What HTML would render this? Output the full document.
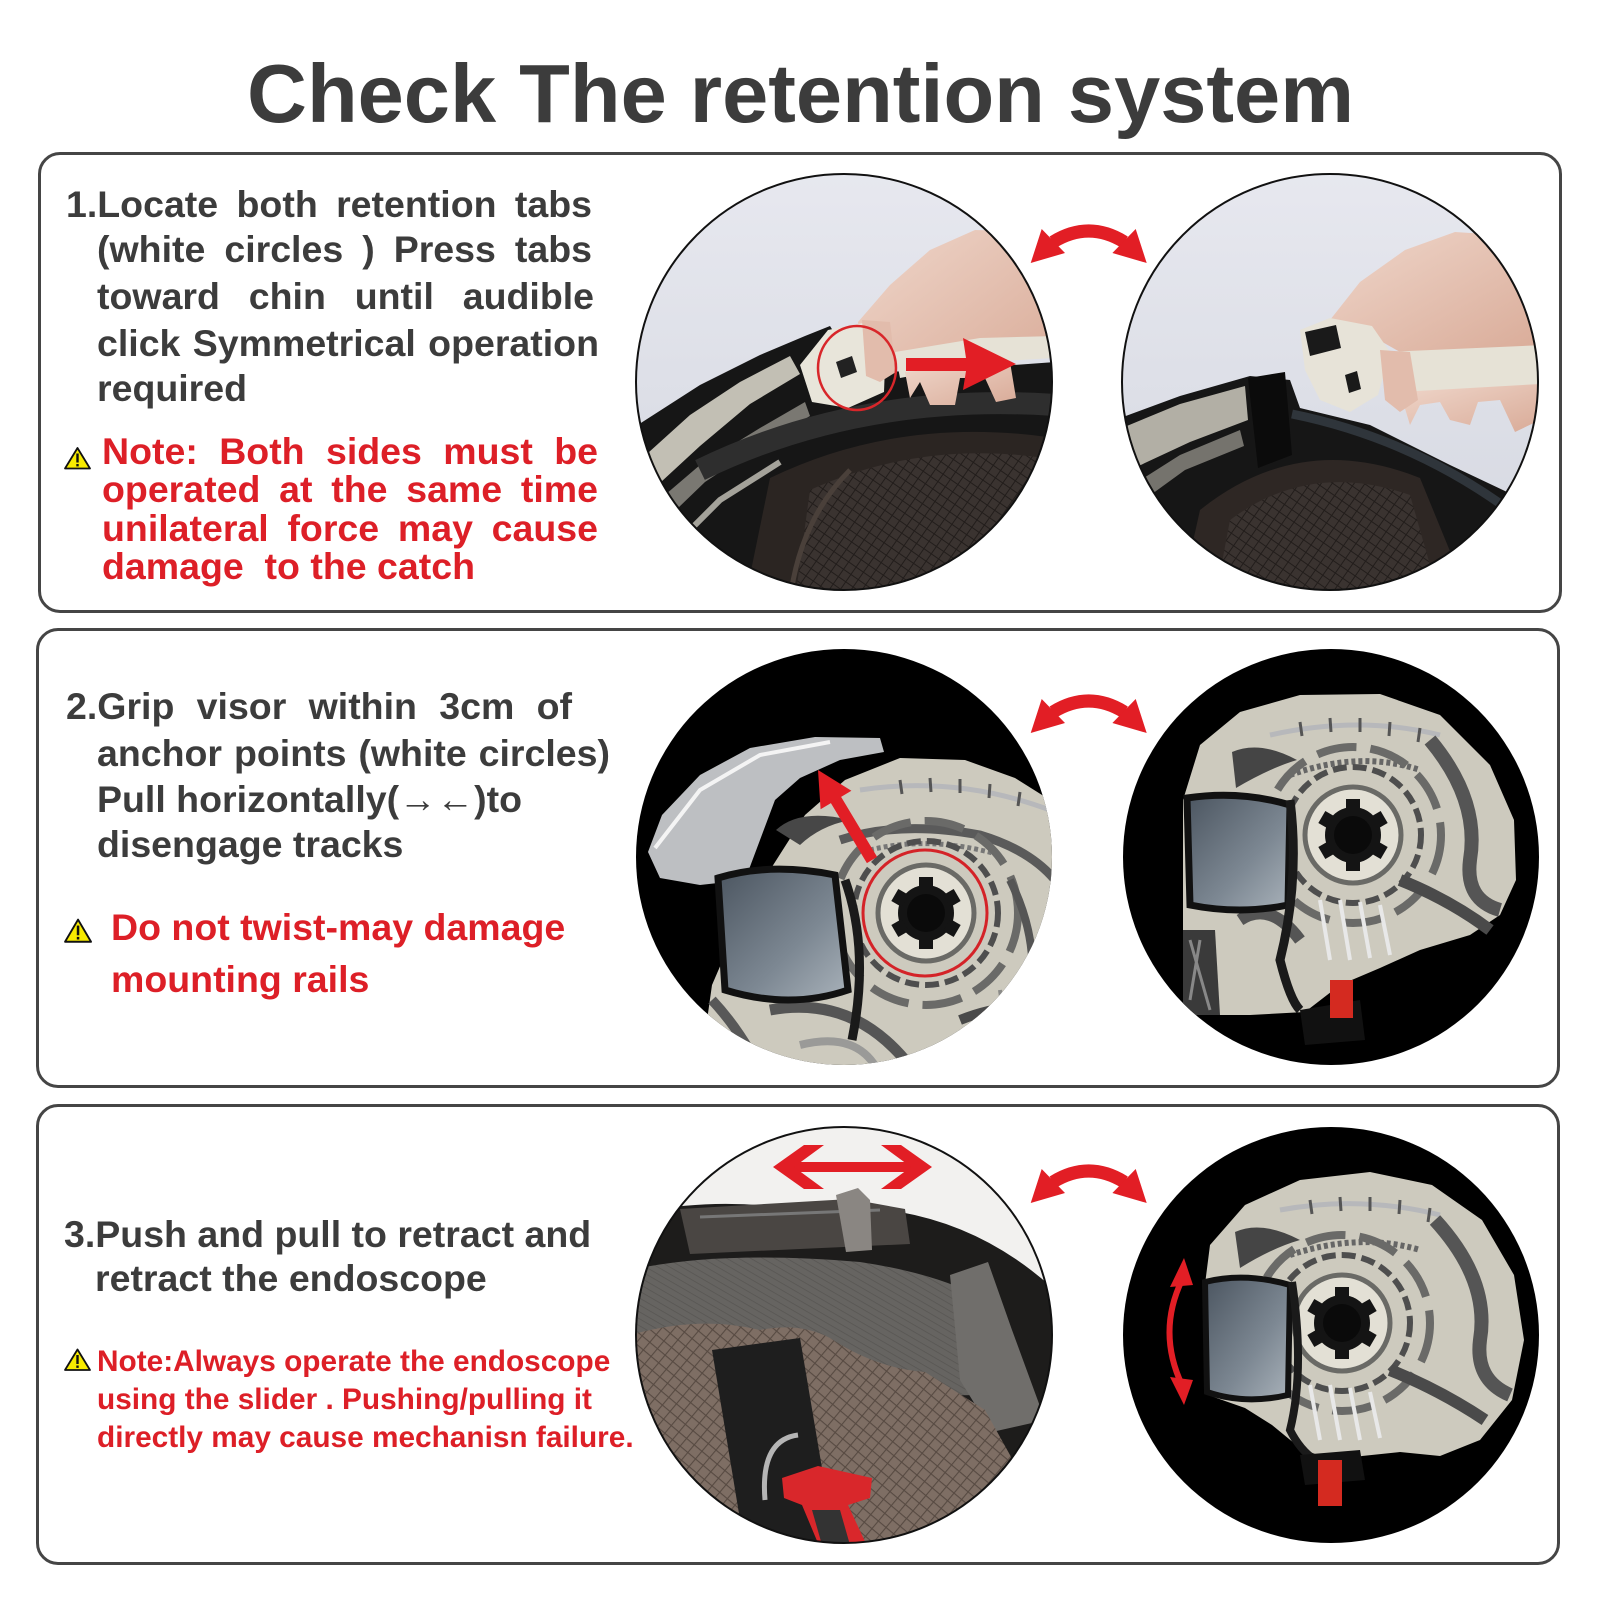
<!DOCTYPE html>
<html><head><meta charset="utf-8">
<style>
html,body{margin:0;padding:0;background:#fff;}
body{width:1600px;height:1600px;position:relative;overflow:hidden;font-family:"Liberation Sans",Arial,sans-serif;font-weight:bold;}
.t{position:absolute;white-space:nowrap;line-height:1;}
.k{color:#3c3c3c;font-size:37.5px;height:38px;}
.r{color:#dd1f27;font-size:37.5px;height:38px;}
.rs{color:#dd1f27;font-size:29.8px;height:30px;}
.j{text-align:justify;text-align-last:justify;white-space:normal;}
.box{position:absolute;border:3px solid #454545;border-radius:22px;box-sizing:border-box;}
svg{position:absolute;left:0;top:0;}
</style></head><body>

<div class="box" style="left:38px;top:152px;width:1524px;height:461px;"></div>
<div class="box" style="left:36px;top:628px;width:1524px;height:460px;"></div>
<div class="box" style="left:36px;top:1104px;width:1524px;height:461px;"></div>

<svg width="1600" height="1600" viewBox="0 0 1600 1600">
<defs>
<clipPath id="c1a"><circle cx="844" cy="382" r="208"/></clipPath>
<clipPath id="c1b"><circle cx="1330" cy="382" r="208"/></clipPath>
<clipPath id="c2a"><circle cx="844" cy="857" r="208"/></clipPath>
<clipPath id="c2b"><circle cx="1331" cy="857" r="208"/></clipPath>
<clipPath id="c3a"><circle cx="844" cy="1335" r="208"/></clipPath>
<clipPath id="c3b"><circle cx="1331" cy="1335" r="208"/></clipPath>
<linearGradient id="bg1" x1="0" y1="0" x2="0" y2="1"><stop offset="0" stop-color="#e7e8ef"/><stop offset="1" stop-color="#d4d7e0"/></linearGradient>
<linearGradient id="skin" x1="0" y1="0" x2="1" y2="1"><stop offset="0" stop-color="#efd6ca"/><stop offset="1" stop-color="#d9ab98"/></linearGradient>
<linearGradient id="visor" x1="0" y1="0" x2="1" y2="1"><stop offset="0" stop-color="#4b5560"/><stop offset="0.6" stop-color="#7d8893"/><stop offset="1" stop-color="#a9b2ba"/></linearGradient>
<pattern id="mesh" width="9" height="9" patternUnits="userSpaceOnUse" patternTransform="rotate(35)">
<rect width="9" height="9" fill="#3a3330"/><path d="M0,0 L9,0 M0,0 L0,9" stroke="#221d1b" stroke-width="2"/></pattern>
<pattern id="bmesh" width="10" height="10" patternUnits="userSpaceOnUse" patternTransform="rotate(40)">
<rect width="10" height="10" fill="#7e6e64"/><path d="M0,0 L10,0 M0,0 L0,10" stroke="#574a42" stroke-width="2.2"/></pattern>
<pattern id="gmesh" width="6" height="6" patternUnits="userSpaceOnUse" patternTransform="rotate(30)">
<rect width="6" height="6" fill="#666461"/><path d="M0,0 L6,0" stroke="#575552" stroke-width="1.5"/></pattern>
<g id="gear">
<circle r="48" fill="#e3e0d5"/>
<circle r="48" fill="none" stroke="#6a6a66" stroke-width="5"/>
<circle r="28" fill="#141414"/>
<rect x="-7" y="-36" width="14" height="12" fill="#141414"/>
<rect x="-7" y="-36" width="14" height="12" fill="#141414" transform="rotate(60)"/>
<rect x="-7" y="-36" width="14" height="12" fill="#141414" transform="rotate(120)"/>
<rect x="-7" y="-36" width="14" height="12" fill="#141414" transform="rotate(180)"/>
<rect x="-7" y="-36" width="14" height="12" fill="#141414" transform="rotate(240)"/>
<rect x="-7" y="-36" width="14" height="12" fill="#141414" transform="rotate(300)"/>
<circle r="19" fill="#0a0a0a"/>
</g>
<g id="curv">
<path d="M1053,242 Q1088.7,220 1124.4,242" stroke="#e21e25" stroke-width="13" fill="none"/>
<path d="M1041.7,229 L1030.7,263 L1065,253 Z" fill="#e21e25"/>
<path d="M1135.7,229 L1146.7,263 L1112.4,253 Z" fill="#e21e25"/>
</g>
<g id="warn">
<path d="M13.5,1.5 L26,22 L1,22 Z" fill="#f7ea00" stroke="#111" stroke-width="1.8" stroke-linejoin="round"/>
<rect x="12.3" y="7" width="2.4" height="9" fill="#111"/>
<rect x="12.3" y="17.5" width="2.4" height="2.4" fill="#111"/>
</g>
</defs>

<!-- ROW 1 CIRCLE A -->
<g clip-path="url(#c1a)">
<rect x="630" y="170" width="430" height="430" fill="url(#bg1)"/>
<path d="M858,322 L890,285 L930,250 L975,230 L1055,232 L1055,342 L905,352 L885,382 L864,374 Z" fill="url(#skin)"/>
<path d="M630,430 L700,385 L760,355 L805,336 L830,326 L845,350 L880,372 L940,370 L1000,366 L1055,362 L1055,600 L630,600 Z" fill="#161616"/>
<path d="M638,462 L690,415 L740,382 L790,356 L800,374 L750,404 L700,446 L648,494 Z" fill="#c2bfb4"/>
<path d="M645,512 L700,465 L760,428 L805,402 L810,416 L765,442 L705,482 L650,535 Z" fill="#7a7872"/>
<path d="M660,560 L720,500 L780,462" stroke="#a4a29a" stroke-width="6" fill="none"/>
<path d="M700,470 Q860,392 1055,405" stroke="#2e2e2e" stroke-width="22" fill="none"/>
<path d="M770,478 Q900,415 1055,438 L1055,600 L745,600 Z" fill="#2b2522"/>
<path d="M810,490 Q920,440 1045,458 L1045,600 L795,600 Z" fill="url(#mesh)"/>
<path d="M790,600 Q800,520 850,470" stroke="#4a403a" stroke-width="5" fill="none"/>
<path d="M800,365 L828,330 L868,322 L886,340 L884,392 L848,408 L812,402 Z" fill="#e8e5da"/>
<path d="M836,362 L852,356 L857,372 L841,378 Z" fill="#222"/>
<path d="M895,352 L980,338 L1055,336 L1055,358 L985,362 L900,378 Z" fill="#e6e2d6"/>
<path d="M905,372 L1010,362 L1016,398 L996,402 L985,378 L960,378 L955,405 L930,405 L920,382 L910,398 Z" fill="url(#skin)"/>
<path d="M862,320 L890,322 L896,372 L880,382 L866,376 Z" fill="#e2bcac"/>
<ellipse cx="857" cy="368" rx="39" ry="42" fill="none" stroke="#d8262a" stroke-width="2.5"/>
<path d="M906,358 L966,358 L963,338 L1016,364 L963,390 L966,371 L906,371 Z" fill="#e21e25"/>
</g>
<circle cx="844" cy="382" r="208" fill="none" stroke="#111" stroke-width="2"/>

<!-- ROW 1 CIRCLE B -->
<g clip-path="url(#c1b)">
<rect x="1115" y="170" width="430" height="430" fill="url(#bg1)"/>
<path d="M1330,320 L1360,282 L1405,250 L1455,232 L1545,238 L1545,350 L1400,352 L1370,335 Z" fill="url(#skin)"/>
<path d="M1115,420 L1180,396 L1250,376 L1290,380 L1300,408 L1370,425 L1450,465 L1545,510 L1545,600 L1115,600 Z" fill="#161616"/>
<path d="M1122,428 L1180,404 L1245,386 L1248,420 L1190,442 L1130,470 Z" fill="#b2afa5"/>
<path d="M1125,490 L1180,455 L1240,430 L1244,446 L1185,470 L1130,510 Z" fill="#75736d"/>
<path d="M1248,378 L1285,372 L1292,455 L1258,468 Z" fill="#0b0b0b"/>
<path d="M1200,510 Q1300,430 1420,478 L1470,600 L1180,600 Z" fill="#2e2724"/>
<path d="M1230,520 Q1310,460 1410,495 L1440,600 L1215,600 Z" fill="url(#mesh)"/>
<path d="M1292,414 Q1420,440 1525,522" stroke="#2f353b" stroke-width="9" fill="none"/>
<path d="M1300,330 L1330,318 L1372,326 L1390,352 L1378,395 L1350,412 L1320,400 L1305,370 Z" fill="#e7e3d8"/>
<path d="M1305,332 L1336,325 L1341,348 L1310,356 Z" fill="#1a1a1a"/>
<path d="M1345,375 L1357,371 L1361,389 L1349,393 Z" fill="#1a1a1a"/>
<path d="M1385,352 L1545,345 L1545,385 L1390,396 Z" fill="#e6e2d6"/>
<path d="M1400,392 L1540,384 L1540,420 L1515,432 L1500,400 L1478,402 L1470,425 L1450,420 L1440,402 L1420,405 L1410,425 Z" fill="url(#skin)"/>
<path d="M1380,350 L1410,352 L1418,400 L1400,412 L1385,400 Z" fill="#e2bcac"/>
</g>
<circle cx="1330" cy="382" r="208" fill="none" stroke="#111" stroke-width="2"/>

<use href="#curv"/>

<!-- ROW 2 CIRCLE A -->
<g clip-path="url(#c2a)">
<rect x="630" y="645" width="430" height="430" fill="#000"/>
<path d="M700,1070 L712,985 L740,920 L770,870 L805,815 L845,780 L900,758 L965,760 L1015,778 L1058,805 L1058,1070 Z" fill="#cdcabe"/>
<path d="M860,790 Q960,775 1055,812" stroke="#b7b8bb" stroke-width="5" fill="none"/>
<path d="M900,780 l2,14 M930,778 l1,14 M960,779 l0,14 M990,784 l-1,14 M1020,792 l-2,14" stroke="#555" stroke-width="3"/>
<path d="M776,830 Q800,808 850,820 Q820,826 800,845 Z" fill="#474747"/>
<path d="M840,840 Q900,820 980,835 Q1030,850 1055,880" stroke="#5a5a5a" stroke-width="9" fill="none"/>
<path d="M870,850 Q930,835 1000,855" stroke="#777" stroke-width="5" fill="none" stroke-dasharray="4 3"/>
<circle cx="926" cy="913" r="72" fill="none" stroke="#4e4e4e" stroke-width="6" stroke-dasharray="14 6"/>
<circle cx="926" cy="913" r="92" fill="none" stroke="#6a6a68" stroke-width="8" stroke-dasharray="40 14"/>
<path d="M1010,880 Q1040,940 1030,1000" stroke="#555" stroke-width="8" fill="none"/>
<path d="M770,1010 Q850,995 905,1060" stroke="#555" stroke-width="11" fill="none"/>
<path d="M800,1045 Q860,1030 880,1075" stroke="#9a9a98" stroke-width="8" fill="none"/>
<path d="M960,1020 Q1010,1000 1055,1010" stroke="#4a4a4a" stroke-width="10" fill="none"/>
<path d="M1000,990 L1010,1060 M1015,985 L1025,1060 M1030,982 L1040,1060" stroke="#8a8a88" stroke-width="4"/>
<path d="M712,1000 Q740,1030 760,1070" stroke="#585858" stroke-width="10" fill="none"/>
<use href="#gear" x="926" y="913"/>
<path d="M648,852 L662,815 L700,775 L750,748 L815,737 L880,738 L884,752 L840,760 L800,778 L775,800 L760,840 L745,880 L700,885 L660,878 Z" fill="#d2d4d7" opacity="0.9"/>
<path d="M655,848 L700,790 L760,755 L830,742" stroke="#f4f4f4" stroke-width="4" fill="none"/>
<path d="M718,878 Q770,862 835,875 L848,990 Q790,1010 725,990 Z" fill="url(#visor)" stroke="#111" stroke-width="7"/>
<path d="M845,880 Q870,950 852,1040" stroke="#1a1a1a" stroke-width="9" fill="none"/>
<ellipse cx="925" cy="913" rx="62" ry="63" stroke="#d42328" stroke-width="3" fill="none"/>
<path d="M877.1,856.9 L841.1,796.9 L851.4,790.7 L818,770 L820.6,809.3 L830.9,803.1 L866.9,863.1 Z" fill="#e21e25"/>
</g>

<!-- ROW 2 CIRCLE B -->
<g clip-path="url(#c2b)">
<rect x="1120" y="645" width="430" height="430" fill="#000"/>
<path d="M1183,800 L1200,745 L1240,712 L1300,695 L1380,694 L1440,715 L1490,765 L1514,820 L1516,880 L1500,915 L1470,935 L1420,950 L1380,968 L1340,985 L1305,1012 L1250,1015 L1210,1015 L1183,1000 Z" fill="#cdcabe"/>
<path d="M1270,735 Q1360,715 1440,735" stroke="#b7b8bb" stroke-width="5" fill="none"/>
<path d="M1300,722 l2,14 M1330,718 l1,14 M1360,718 l0,14 M1390,722 l-1,14 M1420,728 l-2,14" stroke="#555" stroke-width="3"/>
<path d="M1232,752 Q1260,740 1297,760 Q1270,768 1236,788 Z" fill="#454545"/>
<path d="M1290,775 Q1360,750 1420,770" stroke="#666" stroke-width="6" fill="none" stroke-dasharray="4 3"/>
<path d="M1430,740 Q1480,800 1470,860 Q1465,900 1500,910" stroke="#555" stroke-width="14" fill="none"/>
<circle cx="1353" cy="835" r="68" fill="none" stroke="#4e4e4e" stroke-width="6" stroke-dasharray="14 6"/>
<circle cx="1353" cy="835" r="88" fill="none" stroke="#6a6a68" stroke-width="8" stroke-dasharray="40 14"/>
<path d="M1400,880 Q1450,900 1490,930" stroke="#4a4a4a" stroke-width="12" fill="none"/>
<path d="M1320,900 L1330,960 M1340,900 L1350,960 M1360,902 L1370,958 M1380,905 L1390,955" stroke="#e8e8e8" stroke-width="4"/>
<path d="M1240,920 Q1270,900 1300,940" stroke="#555" stroke-width="12" fill="none"/>
<path d="M1183,930 L1215,930 L1220,1015 L1183,1015 Z" fill="#3a3a3a"/>
<path d="M1190,940 L1210,1010 M1200,940 L1190,1000" stroke="#888" stroke-width="3"/>
<use href="#gear" x="1353" y="835"/>
<path d="M1187,798 Q1240,790 1290,805 L1288,905 Q1240,915 1190,905 Z" fill="url(#visor)" stroke="#111" stroke-width="7"/>
<path d="M1290,800 Q1300,880 1280,960 Q1290,1000 1300,1010" stroke="#1a1a1a" stroke-width="9" fill="none"/>
<path d="M1300,1010 L1360,1000 L1365,1040 L1305,1045 Z" fill="#111"/>
<rect x="1330" y="980" width="23" height="38" fill="#d42a20"/>
</g>

<use href="#curv" y="470"/>

<!-- ROW 3 CIRCLE A -->
<g clip-path="url(#c3a)">
<rect x="630" y="1125" width="430" height="430" fill="#f2f1ef"/>
<path d="M630,1215 Q700,1198 780,1207 L900,1212 Q990,1228 1060,1295 L1060,1550 L630,1550 Z" fill="#1d1c1b"/>
<path d="M680,1209 L850,1199 L905,1209 L910,1244 L690,1254 Z" fill="#4a4643"/>
<path d="M700,1217 L880,1210" stroke="#777" stroke-width="3"/>
<path d="M836,1195 L858,1188 L870,1200 L872,1250 L846,1252 Z" fill="#8a8682"/>
<path d="M630,1270 Q720,1250 860,1262 Q940,1274 985,1300 L980,1395 L630,1400 Z" fill="url(#gmesh)"/>
<path d="M950,1275 L988,1262 L1012,1330 L1045,1420 L992,1432 L960,1380 Z" fill="#706e6b"/>
<path d="M630,1335 Q700,1315 760,1330 Q800,1322 830,1338 Q875,1368 925,1372 L985,1410 L1035,1500 L1000,1550 L630,1550 Z" fill="url(#bmesh)"/>
<path d="M712,1350 L800,1338 L835,1545 L745,1550 Z" fill="#1e1e1e"/>
<path d="M798,1435 Q760,1440 765,1500" stroke="#b5b5b5" stroke-width="5" fill="none"/>
<path d="M782,1478 L818,1466 L872,1478 L870,1498 L848,1505 L868,1548 L820,1548 L802,1505 L784,1498 Z" fill="#d9272b"/>
<path d="M812,1510 L840,1510 L850,1545 L822,1545 Z" fill="#333"/>
<rect x="790" y="1162" width="125" height="10" fill="#e21e25"/>
<path d="M773,1167 L804,1145 L824,1145 L794,1167 L824,1189 L804,1189 Z" fill="#e21e25"/>
<path d="M932,1167 L901,1145 L881,1145 L911,1167 L881,1189 L901,1189 Z" fill="#e21e25"/>
</g>
<circle cx="844" cy="1335" r="208" fill="none" stroke="#111" stroke-width="2"/>

<!-- ROW 3 CIRCLE B -->
<g clip-path="url(#c3b)">
<rect x="1120" y="1125" width="430" height="430" fill="#000"/>
<path d="M1203,1300 L1210,1245 L1245,1205 L1300,1180 L1370,1172 L1432,1185 L1482,1220 L1514,1275 L1524,1340 L1512,1400 L1480,1440 L1440,1456 L1400,1452 L1362,1456 L1335,1462 L1300,1448 L1272,1425 L1245,1408 L1208,1395 Z" fill="#cdcabe"/>
<path d="M1280,1210 Q1360,1195 1440,1215" stroke="#b7b8bb" stroke-width="5" fill="none"/>
<path d="M1310,1200 l2,14 M1340,1197 l1,14 M1370,1197 l0,14 M1400,1200 l-1,14 M1430,1208 l-2,14" stroke="#555" stroke-width="3"/>
<path d="M1235,1232 Q1262,1220 1300,1240 Q1272,1248 1240,1268 Z" fill="#454545"/>
<path d="M1290,1255 Q1360,1232 1420,1250" stroke="#666" stroke-width="6" fill="none" stroke-dasharray="4 3"/>
<path d="M1435,1220 Q1490,1280 1480,1340 Q1475,1380 1510,1395" stroke="#555" stroke-width="14" fill="none"/>
<circle cx="1342" cy="1323" r="68" fill="none" stroke="#4e4e4e" stroke-width="6" stroke-dasharray="14 6"/>
<circle cx="1342" cy="1323" r="88" fill="none" stroke="#6a6a68" stroke-width="8" stroke-dasharray="40 14"/>
<path d="M1390,1370 Q1440,1390 1485,1420" stroke="#4a4a4a" stroke-width="12" fill="none"/>
<path d="M1310,1385 L1320,1440 M1330,1385 L1340,1440 M1350,1388 L1360,1440 M1370,1392 L1380,1438" stroke="#e8e8e8" stroke-width="4"/>
<use href="#gear" x="1342" y="1323"/>
<path d="M1205,1282 Q1245,1272 1290,1285 L1288,1395 Q1245,1405 1207,1392 Z" fill="url(#visor)" stroke="#111" stroke-width="6"/>
<path d="M1292,1282 Q1305,1370 1290,1430 Q1300,1450 1315,1460" stroke="#1a1a1a" stroke-width="8" fill="none"/>
<path d="M1300,1455 L1360,1450 L1365,1480 L1305,1485 Z" fill="#111"/>
<rect x="1318" y="1460" width="24" height="46" fill="#d42a20"/>
<path d="M1182,1280 Q1157,1332 1182,1385" stroke="#e21e25" stroke-width="6" fill="none"/>
<path d="M1184,1258 L1170,1287 L1193,1285 Z" fill="#e21e25"/>
<path d="M1184,1405 L1170,1377 L1193,1380 Z" fill="#e21e25"/>
</g>

<use href="#curv" y="940"/>

<use href="#warn" x="64" y="446.5"/>
<g transform="translate(64,918) scale(1.04,1.08)"><use href="#warn"/></g>
<use href="#warn" x="64" y="1348"/>
</svg>

<div class="t" style="left:247px;top:51.7px;font-size:83px;color:#3c3c3c;">Check The retention system</div>

<div class="t k j" style="left:66px;top:186.3px;width:526px;">1.Locate both retention tabs</div>
<div class="t k j" style="left:97px;top:231.3px;width:495px;">(white circles ) Press tabs</div>
<div class="t k j" style="left:97px;top:278.3px;width:497px;">toward chin until audible</div>
<div class="t k j" style="left:97px;top:325.3px;width:502px;">click Symmetrical operation</div>
<div class="t k" style="left:97px;top:370.3px;">required</div>
<div class="t r j" style="left:102px;top:433.3px;width:496px;">Note: Both sides must be</div>
<div class="t r j" style="left:102px;top:471.3px;width:496px;">operated at the same time</div>
<div class="t r j" style="left:102px;top:510.3px;width:496px;">unilateral force may cause</div>
<div class="t r" style="left:102px;top:548.3px;">damage&nbsp; to the catch</div>

<div class="t k j" style="left:66px;top:688.3px;width:506px;">2.Grip visor within 3cm of</div>
<div class="t k j" style="left:97px;top:735.3px;width:513px;">anchor points (white circles)</div>
<div class="t k" style="left:97px;top:781.3px;">Pull horizontally(→←)to</div>
<div class="t k" style="left:97px;top:826.3px;">disengage tracks</div>
<div class="t r" style="left:111px;top:909.3px;">Do not twist-may damage</div>
<div class="t r" style="left:111px;top:961.3px;">mounting rails</div>

<div class="t k" style="left:64px;top:1216.3px;">3.Push and pull to retract and</div>
<div class="t k" style="left:95px;top:1260.3px;">retract the endoscope</div>
<div class="t rs" style="left:97px;top:1346.8px;">Note:Always operate the endoscope</div>
<div class="t rs" style="left:97px;top:1384.8px;">using the slider . Pushing/pulling it</div>
<div class="t rs" style="left:97px;top:1422.8px;">directly may cause mechanisn failure.</div>

</body></html>
